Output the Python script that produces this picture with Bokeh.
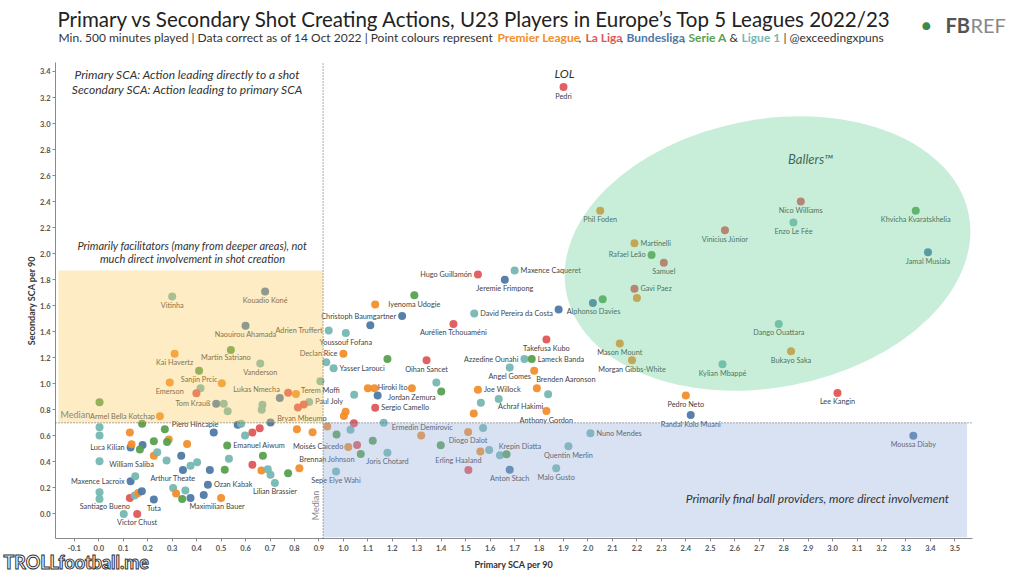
from bokeh.plotting import figure
from bokeh.models import Range1d, Label, BoxAnnotation, ColumnDataSource, FixedTicker, NumeralTickFormatter
from bokeh.embed import file_html
from bokeh.resources import INLINE
from bokeh.core.properties import value

# ---------------- data ----------------
names = [
    "Pedri", "Nico Williams", "Khvicha Kvaratskhelia", "Enzo Le Fée", "Vinicius Júnior", "Phil Foden",
    "Martinelli", "Rafael Leão", "Samuel", "Jamal Musiala", "Gavi Paez", "Alphonso Davies",
    "Dango Ouattara", "Mason Mount", "Morgan Gibbs-White", "Bukayo Saka", "Kylian Mbappé", "Takefusa Kubo",
    "Pedro Neto", "Lee Kangin", "Randal Kolo Muani", "Nuno Mendes", "Quentin Merlin", "Moussa Diaby",
    "Malo Gusto", "Anton Stach", "Erling Haaland", "Krepin Diatta", "Diogo Dalot", "Ermedin Demirovic",
    "Joris Chotard", "Moisés Caicedo", "Brennan Johnson", "Sepe Elye Wahi", "Sergio Camello", "Achraf Hakimi",
    "Anthony Gordon", "Joe Willock", "Angel Gomes", "Brenden Aaronson", "Azzedine Ounahi", "Lameck Banda",
    "Oihan Sancet", "Jordan Zemura", "Hiroki Ito", "Yasser Larouci", "Declan Rice", "Youssouf Fofana",
    "Adrien Truffert", "Christoph Baumgartner", "Iyenoma Udogie", "Aurélien Tchouaméni", "David Pereira da Costa",
    "Hugo Guillamón", "Maxence Caqueret", "Jeremie Frimpong", "Terem Moffi", "Paul Joly", "Lukas Nmecha",
    "Bryan Mbeumo", "Vitinha", "Kouadio Koné", "Naouirou Ahamada", "Kai Havertz", "Martin Satriano",
    "Vanderson", "Sanjin Prcic", "Emerson", "Tom Krauß", "Armel Bella Kotchap", "Piero Hincapie",
    "Luca Kilian", "William Saliba", "Emanuel Aiwum", "Maxence Lacroix", "Arthur Theate", "Ozan Kabak",
    "Lilian Brassier", "Maximilian Bauer", "Santiago Bueno", "Tuta", "Victor Chust",
]
leagues = [
    "LL", "LL", "SA", "L1", "LL", "PL",
    "PL", "SA", "LL", "BL", "LL", "BL",
    "L1", "PL", "PL", "PL", "L1", "LL",
    "PL", "LL", "BL", "L1", "L1", "BL",
    "L1", "BL", "PL", "L1", "PL", "L1",
    "L1", "PL", "PL", "L1", "LL", "L1",
    "PL", "PL", "L1", "PL", "L1", "SA",
    "LL", "PL", "BL", "L1", "PL", "L1",
    "L1", "BL", "SA", "LL", "L1",
    "LL", "L1", "BL", "L1", "L1", "BL",
    "PL", "L1", "BL", "BL", "PL", "SA",
    "L1", "SA", "PL", "BL", "PL", "SA",
    "BL", "PL", "SA", "BL", "BL", "BL",
    "L1", "PL", "LL", "BL", "LL",
]
primary = [
    1.90, 2.87, 3.34, 2.84, 2.56, 2.05,
    2.19, 2.26, 2.31, 3.39, 2.19, 1.88,
    2.78, 2.13, 2.18, 2.83, 2.55, 1.83,
    2.40, 3.02, 2.42, 2.01, 1.92, 3.33,
    1.87, 1.68, 1.56, 1.64, 1.51, 1.165,
    1.18, 1.02, 0.82, 0.97, 1.13, 1.635,
    1.83, 1.55, 1.68, 1.78, 1.74, 1.77,
    1.34, 1.28, 1.14, 0.96, 1.00, 1.01,
    0.94, 1.24, 1.29, 1.45, 1.535,
    1.55, 1.70, 1.66, 0.906, 0.86, 0.74,
    0.81, 0.30, 0.68, 0.60, 0.31, 0.54,
    0.66, 0.41, 0.29, 0.48, 0.25, 0.27,
    0.13, 0.225, 0.525, 0.13, 0.344, 0.446,
    0.72, 0.50, 0.127, 0.225, 0.157,
]
secondary = [
    3.28, 2.40, 2.33, 2.24, 2.18, 2.33,
    2.08, 1.99, 1.93, 2.01, 1.73, 1.57,
    1.46, 1.31, 1.18, 1.25, 1.15, 1.34,
    0.91, 0.93, 0.76, 0.62, 0.52, 0.60,
    0.35, 0.34, 0.48, 0.45, 0.63, 0.70,
    0.47, 0.515, 0.35, 0.325, 0.815, 0.884,
    0.79, 0.955, 1.125, 1.10, 1.19, 1.19,
    1.18, 0.966, 0.91, 1.12, 1.23, 1.39,
    1.41, 1.52, 1.68, 1.46, 1.54,
    1.84, 1.87, 1.80, 1.02, 0.86, 0.89,
    0.65, 1.67, 1.71, 1.445, 1.23, 1.26,
    1.155, 1.10, 1.01, 0.846, 0.75, 0.65,
    0.51, 0.446, 0.525, 0.25, 0.338, 0.225,
    0.238, 0.123, 0.123, 0.11, 0.00,
]

# unlabelled players
other_leagues = [
    "PL", "SA", "BL", "BL", "PL", "L1", "SA", "L1", "SA", "PL",
    "PL", "L1", "PL", "PL", "L1", "PL", "L1", "PL", "L1", "PL",
    "SA", "SA", "LL", "SA", "SA", "L1", "LL", "PL", "PL", "LL",
    "L1", "SA", "LL", "LL", "PL", "LL", "L1", "L1", "BL", "BL",
    "L1", "L1", "LL", "LL", "PL", "L1", "LL", "L1", "L1", "SA",
    "SA", "L1", "L1", "PL", "BL", "PL", "BL", "SA", "SA", "PL",
    "SA", "PL", "L1", "L1", "L1", "BL", "L1", "L1", "BL", "SA",
    "L1", "LL", "SA", "PL", "L1", "L1", "SA", "L1", "L1", "L1",
    "PL", "SA", "BL", "BL", "L1", "L1", "L1", "PL", "BL", "L1",
]
other_primary = [
    2.20, 2.06, 2.02, 1.11, 1.13, 0.93, 1.18, 1.38, 1.40, 1.10,
    1.127, 1.044, 1.009, 1.002, 1.562, 1.791, 1.837, 1.533, 1.571, 1.318,
    1.398, 1.12, 1.056, 1.071, 0.972, 1.029, 1.043, 0.934, 0.874, 0.838,
    1.596, 1.667, 1.511, 0.774, 0.806, 0.814, 0.669, 0.666, 0.702, 0.568,
    0.582, 0.598, 0.628, 0.658, 0.503, 0.416, 0.399, 0.511, 0.527, 0.003,
    0.177, 0.003, 0.003, 0.127, 0.470, 0.134, 0.179, 0.168, 0.225, 0.286,
    0.279, 0.361, 0.239, 0.003, 0.277, 0.337, 0.375, 0.402, 0.454, 0.515,
    0.532, 0.628, 0.671, 0.665, 0.691, 0.702, 0.774, 0.149, 0.304, 0.354,
    0.316, 0.341, 0.375, 0.429, 0.003, 0.003, 0.147, 0.161, 0.176, 0.102,
]
other_secondary = [
    1.66, 1.65, 1.62, 1.45, 1.61, 1.165, 1.19, 1.01, 0.94, 0.966,
    0.966, 0.915, 0.786, 0.753, 0.855, 0.966, 0.919, 0.771, 0.661, 0.602,
    0.527, 0.563, 0.53, 0.461, 0.61, 0.646, 0.697, 0.671, 0.627, 0.84,
    0.492, 0.458, 0.338, 0.932, 0.922, 0.817, 0.838, 0.80, 0.702, 0.686,
    0.692, 0.602, 0.625, 0.658, 1.004, 0.966, 0.927, 0.846, 0.789, 0.858,
    0.692, 0.666, 0.602, 0.625, 0.625, 0.535, 0.53, 0.494, 0.558, 0.571,
    0.553, 0.538, 0.474, 0.404, 0.41, 0.446, 0.371, 0.397, 0.338, 0.34,
    0.423, 0.377, 0.446, 0.333, 0.343, 0.30, 0.312, 0.289, 0.20, 0.179,
    0.156, 0.115, 0.123, 0.146, 0.166, 0.115, 0.141, 0.161, 0.174, 0.00,
]

league_names = ["Premier League", "La Liga", "Bundesliga", "Serie A", "Ligue 1"]
league_codes = ["PL", "LL", "BL", "SA", "L1"]
league_colors = ["#F28E2B", "#E15759", "#4E79A7", "#59A14F", "#76B7B2"]

x_ticks = [-0.1, 0.0, 0.1, 0.2, 0.3, 0.4, 0.5, 0.6, 0.7, 0.8, 0.9, 1.0, 1.1, 1.2, 1.3, 1.4, 1.5, 1.6,
           1.7, 1.8, 1.9, 2.0, 2.1, 2.2, 2.3, 2.4, 2.5, 2.6, 2.7, 2.8, 2.9, 3.0, 3.1, 3.2, 3.3, 3.4, 3.5]
y_ticks = [0.0, 0.2, 0.4, 0.6, 0.8, 1.0, 1.2, 1.4, 1.6, 1.8, 2.0, 2.2, 2.4, 2.6, 2.8, 3.0, 3.2, 3.4]

median_primary = 0.917
median_secondary = 0.70

# axis extents (data units)
X_MIN, X_MAX = -0.177, 3.572
Y_MIN, Y_MAX = -0.189, 3.469

# ---------------- label layout (pixel offsets) ----------------
R = (6, 0, "left")
L = (-6, 0, "right")
label_pos = {
    "Martinelli": R, "Rafael Leão": L, "Gavi Paez": R, "Alphonso Davies": (8, 2, "left"),
    "Nuno Mendes": R, "Erling Haaland": (-22, 9, "center"), "Krepin Diatta": (20, -9, "center"),
    "Ermedin Demirovic": (8, 5, "left"), "Moisés Caicedo": (-5, 0, "right"),
    "Brennan Johnson": (0, -9, "left"), "Sergio Camello": R, "Achraf Hakimi": (22, 8, "center"),
    "Joe Willock": R, "Brenden Aaronson": (2, 9, "left"), "Azzedine Ounahi": L, "Lameck Banda": R,
    "Hiroki Ito": (0, -8, "left"), "Yasser Larouci": R, "Declan Rice": L, "Adrien Truffert": L,
    "Christoph Baumgartner": L, "David Pereira da Costa": R, "Hugo Guillamón": L,
    "Maxence Caqueret": R, "Paul Joly": R, "Lukas Nmecha": (0, -9, "right"),
    "Bryan Mbeumo": (5, -11, "center"), "Martin Satriano": (-5, 8, "center"), "Tom Krauß": L,
    "Armel Bella Kotchap": (-5, 0, "right"), "Piero Hincapie": (7, -5, "left"), "Luca Kilian": L,
    "William Saliba": (0, 9, "right"), "Emanuel Aiwum": R, "Maxence Lacroix": L,
    "Arthur Theate": (-10, 9, "center"), "Ozan Kabak": R, "Maximilian Bauer": (-4, 9, "center"),
    "Santiago Bueno": (0, 9, "right"),
}

cmap = dict(zip(league_codes, league_colors))

pts = ColumnDataSource(dict(
    x=primary + other_primary,
    y=secondary + other_secondary,
    c=[cmap[l] for l in leagues + other_leagues],
))
lab = ColumnDataSource(dict(
    x=primary, y=secondary, name=names,
    dx=[label_pos.get(n, (0, 9, "center"))[0] for n in names],
    dy=[label_pos.get(n, (0, 9, "center"))[1] for n in names],
    al=[label_pos.get(n, (0, 9, "center"))[2] for n in names],
))

FONT = "Lato"
W, H = 1020, 572
# pixel geometry of the axes box in the reference picture
AX_L, AX_R, AX_T, AX_B = 55, 972, 62, 538
sx_per = (AX_R - AX_L) / (X_MAX - X_MIN)
sy_per = (AX_B - AX_T) / (Y_MAX - Y_MIN)
x_lo = X_MIN - AX_L / sx_per
x_hi = X_MAX + (W - AX_R) / sx_per
y_lo = Y_MIN - (H - AX_B) / sy_per
y_hi = Y_MAX + AX_T / sy_per

p = figure(width=W, height=H, output_backend="svg", toolbar_location=None,
           x_range=Range1d(x_lo, x_hi), y_range=Range1d(y_lo, y_hi), min_border=0)
p.outline_line_color = None
p.xgrid.visible = False
p.ygrid.visible = False
p.background_fill_color = "white"

p.xaxis.fixed_location = Y_MIN
p.yaxis.fixed_location = X_MIN
p.xaxis.bounds = (X_MIN, X_MAX)
p.yaxis.bounds = (Y_MIN, Y_MAX)

for ax, ticks in ((p.xaxis, x_ticks), (p.yaxis, y_ticks)):
    ax.ticker = FixedTicker(ticks=ticks)
    ax.formatter = NumeralTickFormatter(format="0.0")
    ax.minor_tick_line_color = None
    ax.major_tick_in = 0
    ax.major_tick_out = 3
    ax.axis_line_color = "#8a8a8a"
    ax.major_tick_line_color = "#8a8a8a"
    ax.major_label_text_font = FONT
    ax.major_label_text_font_size = "7.5px"
    ax.major_label_text_font_style = "bold"
    ax.major_label_text_color = "#555555"
    ax.major_label_standoff = 3
    ax.axis_label_text_font = FONT
    ax.axis_label_text_font_size = "9px"
    ax.axis_label_text_font_style = "bold"
    ax.axis_label_text_color = "#333333"
p.xaxis.axis_label = "Primary SCA per 90"
p.yaxis.axis_label = "Secondary SCA per 90"
p.xaxis.axis_label_standoff = 5
p.yaxis.axis_label_standoff = 0
p.yaxis.major_label_standoff = 2

# points and labels
p.scatter("x", "y", source=pts, size=8, fill_color="c", line_color=None, fill_alpha=0.95)
p.text("x", "y", text="name", source=lab, x_offset="dx", y_offset="dy", text_align="al",
       text_baseline="middle", text_font=value(FONT), text_font_size="7.3px", text_color="#444444")


def px2x(px):
    return X_MIN + (px - AX_L) / sx_per


def py2y(py):
    return Y_MIN + (AX_B - py) / sy_per


# shaded regions (drawn over the points)
p.add_layout(BoxAnnotation(left=X_MIN + 0.012, right=median_primary, bottom=median_secondary, top=1.87,
                           fill_color="#F9C856", fill_alpha=0.35, line_color=None))
p.add_layout(BoxAnnotation(left=median_primary, right=3.55, bottom=Y_MIN + 0.01, top=median_secondary,
                           fill_color="#92ACDA", fill_alpha=0.35, line_color=None))
p.ellipse(x=[px2x(767)], y=[py2y(253)], width=[1.676], height=[2.06], angle=0.19,
          fill_color="#62CE95", fill_alpha=0.35, line_color=None, level="overlay")

# medians (dotted, limited to the axes box)
p.segment(x0=[median_primary], y0=[Y_MIN], x1=[median_primary], y1=[Y_MAX],
          line_color="#555555", line_dash="1 2", line_width=1, level="overlay")
p.segment(x0=[X_MIN], y0=[median_secondary], x1=[X_MAX], y1=[median_secondary],
          line_color="#555555", line_dash="1 2", line_width=1, level="overlay")


def plabel(px, py, text, size="12px", style="italic", color="#333333", align="center",
           angle=0.0, font=FONT, **kw):
    p.add_layout(Label(x=px2x(px), y=py2y(py), text=text, text_font=font, text_font_size=size,
                       text_font_style=style, text_color=color, text_align=align,
                       text_baseline="middle", angle=angle, **kw))


# in-plot annotations (pixel positions in the picture)
plabel(187, 74, "Primary SCA: Action leading directly to a shot")
plabel(187, 89, "Secondary SCA: Action leading to primary SCA")
plabel(192, 245, "Primarily facilitators (many from deeper areas), not", size="11px")
plabel(192, 258, "much direct involvement in shot creation", size="11px")
plabel(564, 73, "LOL")
plabel(810, 158, "Ballers™", size="13px")
plabel(817, 498, "Primarily final ball providers, more direct involvement")
plabel(60, 414, "Median", size="9px", style="normal", color="#8a8a8a", align="left")
plabel(315, 505, "Median", size="9px", style="normal", color="#8a8a8a", angle=1.5708)

# titles
plabel(57, 18, "Primary vs Secondary Shot Creating Actions, U23 Players in Europe’s Top 5 Leagues 2022/23",
       size="20.5px", style="normal", color="#222222", align="left")
sub = [
    ("Min. 500 minutes played | Data correct as of 14 Oct 2022 | Point colours represent", "#333333", 58, "normal"),
    ("Premier League", league_colors[0], 497, "bold"),
    (",", "#333333", 578, "normal"),
    ("La Liga", league_colors[1], 585, "bold"),
    (",", "#333333", 620, "normal"),
    ("Bundesliga", league_colors[2], 626, "bold"),
    (",", "#333333", 682, "normal"),
    ("Serie A", league_colors[3], 688, "bold"),
    ("&", "#333333", 729, "normal"),
    ("Ligue 1", league_colors[4], 741, "bold"),
    ("| @exceedingxpuns", "#333333", 783, "normal"),
]
for t, c, x0, st in sub:
    plabel(x0, 37, t, size="12px", style=st, color=c, align="left")

plabel(921, 24, "●", size="16px", style="normal", color="#3a8a4a", align="left")
plabel(945, 24, "FB", size="20px", style="bold", color="#555555", align="left")
plabel(970, 24, "REF", size="20px", style="normal", color="#888888", align="left")

plabel(3, 561, "TROLLfootball.me", size="18px", style="bold", color="#ffffff", align="left",
       text_outline_color="#333333")

open("out.html", "w").write(file_html(p, INLINE))
